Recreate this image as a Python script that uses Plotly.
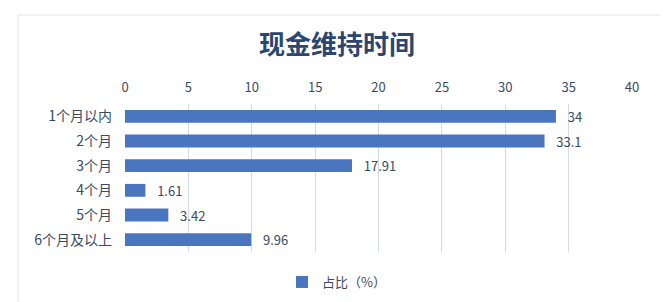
import plotly.graph_objects as go

categories = ["1个月以内", "2个月", "3个月", "4个月", "5个月", "6个月及以上"]
values = [34, 33.1, 17.91, 1.61, 3.42, 9.96]
value_labels = ["34", "33.1", "17.91", "1.61", "3.42", "9.96"]
series_name = "占比（%）"
x_ticks = [0, 5, 10, 15, 20, 25, 30, 35, 40]

font_family = "Noto Sans CJK SC, Noto Sans, sans-serif"
text_color = "#3a4a64"

fig = go.Figure()
fig.add_trace(go.Bar(
    y=categories, x=values, orientation="h", name=series_name,
    marker=dict(color="#4a76c0", line=dict(width=0)),
    text=value_labels, texttemplate="   %{text}", textposition="outside",
    cliponaxis=False, constraintext="none",
    textfont=dict(size=13, color=text_color, family=font_family),
))

fig.update_layout(
    width=663, height=302,
    margin=dict(l=125, r=31, t=104, b=50, autoexpand=False),
    paper_bgcolor="white", plot_bgcolor="white",
    title=dict(text="<b>现金维持时间</b>", x=337/663, xanchor="center", xref="container",
               y=1 - 45/302, yref="container", yanchor="middle",
               font=dict(size=26, color="#2b4670", family=font_family)),
    bargap=0.48,
    showlegend=True,
    legend=dict(orientation="h", x=(282-125)/507, xanchor="left",
                y=(302-282)/302, yref="container", yanchor="middle",
                font=dict(size=13, color=text_color, family=font_family),
                itemwidth=30),
    xaxis=dict(side="top", range=[0, 40], tickvals=x_ticks, showgrid=True,
               gridcolor="#d5dbe6", gridwidth=1, zeroline=False, showline=False,
               ticks="", tickfont=dict(size=13, color=text_color, family=font_family),
               ticklabelstandoff=8),
    yaxis=dict(autorange="reversed", showgrid=False, showline=False, ticks="",
               tickfont=dict(size=14, color=text_color, family=font_family),
               ticklabelstandoff=12),
    shapes=[
        dict(type="line", xref="paper", yref="paper",
             x0=(18-125)/507, x1=(660-125)/507, y0=1+(104-15)/148, y1=1+(104-15)/148,
             line=dict(color="#e3e6ec", width=1)),
        dict(type="line", xref="paper", yref="paper",
             x0=(18-125)/507, x1=(18-125)/507, y0=1+(104-15)/148, y1=-(302-252)/148,
             line=dict(color="#e3e6ec", width=1)),
    ],
)

fig.write_html("out.html")
